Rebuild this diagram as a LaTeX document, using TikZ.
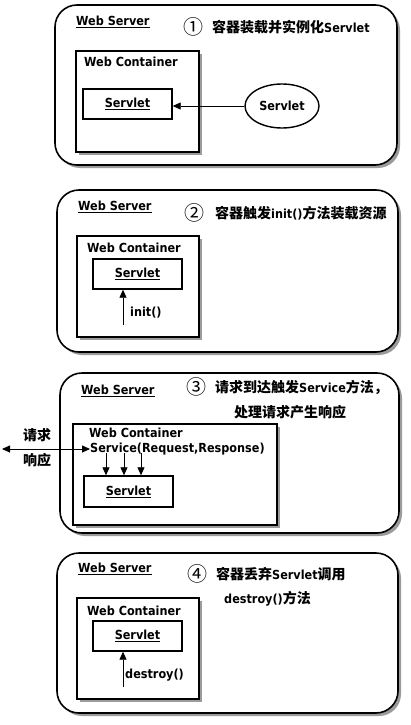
\documentclass[tikz,border=0pt]{standalone}
\usepackage{fontspec}
\setmainfont{DejaVu Sans Condensed}
\newfontfamily\cjk{Noto Sans CJK SC}
\newcommand{\latf}{\fontspec{DejaVu Sans Condensed}\fontsize{12.5}{14}\selectfont\bfseries}
\usetikzlibrary{shadows,arrows.meta,shapes.geometric}
\begin{document}
\begin{tikzpicture}[x=1pt,y=-1pt,
  lbl/.style={font=\fontsize{12.5}{14}\selectfont\bfseries, inner sep=0pt, anchor=west},
  cjkl/.style={font=\cjk\fontsize{14}{16}\selectfont\bfseries, inner sep=0pt, anchor=west},
  num/.style={font=\cjk\fontsize{20}{22}\selectfont, inner sep=0pt},
  outerbox/.style={draw, line width=1.6pt, rounded corners=22pt, fill=white,
    drop shadow={shadow xshift=3pt, shadow yshift=-3pt, fill=black!60, opacity=0.65}},
  contbox/.style={draw, line width=1.4pt, fill=white,
    drop shadow={shadow xshift=3pt, shadow yshift=-3pt, fill=black!60, opacity=0.65}},
  svbox/.style={draw, line width=1.4pt, fill=white, inner sep=0pt,
    font=\fontsize{12.5}{14}\selectfont\bfseries},
  arr/.style={-{Triangle[length=8pt,width=7pt]}, line width=0.8pt},
  darr/.style={{Triangle[length=8pt,width=7pt]}-{Triangle[length=8pt,width=7pt]}, line width=0.8pt}
]
\useasboundingbox[fill=white] (0,0) rectangle (410,725);

% ---------- Panel 1 ----------
\node[outerbox, minimum width=342pt, minimum height=160pt] (s1) at (226,85) {};
\node[lbl] (ws1) at (76,22) {\underline{Web Server}};
\node[num] (n1) at (193,27) {①};
\node[cjkl] (t1) at (212,27) {容器装载并实例化{\latf Servlet}};
\node[contbox, minimum width=123pt, minimum height=101pt] (c1) at (137.5,101.5) {};
\node[lbl] (wc1) at (84,62) {Web Container};
\node[svbox, minimum width=89pt, minimum height=30pt] (v1) at (127.5,104) {\underline{Servlet}};
\node[draw, ellipse, line width=1.4pt, minimum width=74pt, minimum height=44pt, inner sep=0pt,
  font=\fontsize{12.5}{14}\selectfont\bfseries] (e1) at (282,106) {Servlet};
\draw[arr] (e1.west) -- (v1.east |- e1.west);

% ---------- Panel 2 ----------
\node[outerbox, minimum width=341pt, minimum height=162pt] (s2) at (227.5,271) {};
\node[lbl] (ws2) at (78,207) {\underline{Web Server}};
\node[num] (n2) at (194,213) {②};
\node[cjkl] (t2) at (215,213) {容器触发{\latf init()}方法装载资源};
\node[contbox, minimum width=122pt, minimum height=101pt] (c2) at (138,286.5) {};
\node[lbl] (wc2) at (87,248) {Web Container};
\node[svbox, minimum width=89pt, minimum height=30pt] (v2) at (137.5,274) {\underline{Servlet}};
\coordinate (a2) at (123,325);
\draw[arr] (a2) -- (a2 |- v2.south);
\node[lbl] (i2) at (130,313) {init()};

% ---------- Panel 3 ----------
\node[outerbox, minimum width=339pt, minimum height=160pt] (s3) at (229.5,453) {};
\node[lbl] (ws3) at (81,391) {\underline{Web Server}};
\node[num] (n3) at (196,387) {③};
\node[cjkl] (t3) at (215,387) {请求到达触发{\latf Service}方法，};
\node[cjkl] (t3b) at (234,412) {处理请求产生响应};
\node[contbox, minimum width=204pt, minimum height=101pt] (c3) at (175,474.5) {};
\node[lbl] (wc3) at (89,433) {Web Container};
\node[lbl] (sv3) at (90,449) {Service(Request,Response)};
\node[svbox, minimum width=89pt, minimum height=31pt] (v3) at (128.5,491.5) {\underline{Servlet}};
\coordinate (L3) at (2,449);
\draw[darr] (L3) -- (sv3.west);
\node[cjkl] (q3) at (23,435) {请求};
\node[cjkl] (r3) at (23,460) {响应};
\coordinate (p1) at (106,453);
\coordinate (p2) at (124,453);
\coordinate (p3) at (141,453);
\draw[arr] (p1) -- (p1 |- v3.north);
\draw[arr] (p2) -- (p2 |- v3.north);
\draw[arr] (p3) -- (p3 |- v3.north);

% ---------- Panel 4 ----------
\node[outerbox, minimum width=341pt, minimum height=160pt] (s4) at (227.5,633) {};
\node[lbl] (ws4) at (78,569) {\underline{Web Server}};
\node[num] (n4) at (197,574) {④};
\node[cjkl] (t4) at (216,574) {容器丢弃{\latf Servlet}调用};
\node[cjkl] (t4b) at (224,599) {{\latf destroy()}方法};
\node[contbox, minimum width=122pt, minimum height=101pt] (c4) at (138,648.5) {};
\node[lbl] (wc4) at (87,611) {Web Container};
\node[svbox, minimum width=89pt, minimum height=30pt] (v4) at (137.5,636) {\underline{Servlet}};
\coordinate (a4) at (123,687);
\draw[arr] (a4) -- (a4 |- v4.south);
\node[lbl] (d4) at (125,675) {destroy()};
\end{tikzpicture}
\end{document}
